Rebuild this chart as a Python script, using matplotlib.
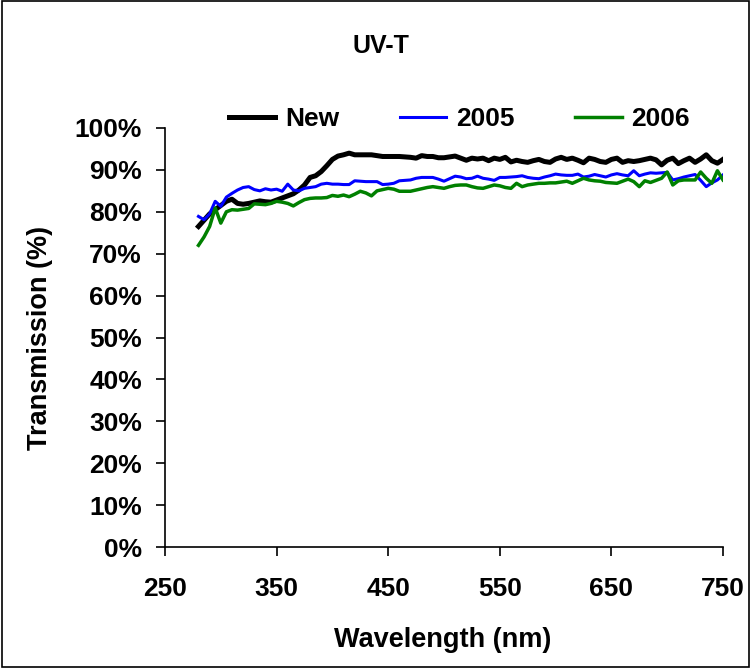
import matplotlib
matplotlib.use("Agg")
import matplotlib.pyplot as plt
from matplotlib.ticker import FuncFormatter

plt.rcParams['font.family'] = ['Liberation Sans', 'DejaVu Sans']
plt.rcParams['font.weight'] = 'bold'

# wavelength grid (nm)
wavelength = list(range(280, 755, 5))

trans_new = [
    76.5, 78.0, 79.5, 80.5, 81.5, 82.5, 83.0, 82.0, 81.8, 82.0,
    82.3, 82.6, 82.4, 82.3, 82.8, 83.3, 83.8, 84.3, 85.2, 86.4,
    88.2, 88.6, 89.6, 91.0, 92.5, 93.3, 93.6, 94.0, 93.6, 93.6,
    93.6, 93.6, 93.4, 93.2, 93.2, 93.2, 93.2, 93.1, 93.0, 92.8,
    93.4, 93.2, 93.2, 92.9, 92.9, 93.1, 93.3, 92.8, 92.3, 92.8,
    92.6, 92.8, 92.2, 92.8, 92.5, 93.0, 91.9, 92.3, 92.0, 91.8,
    92.2, 92.5, 92.0, 91.8, 92.6, 93.0, 92.5, 92.8, 92.3, 91.7,
    92.8, 92.5, 92.0, 91.8, 92.5, 92.8, 91.8, 92.2, 92.0, 92.2,
    92.5, 92.8, 92.4, 91.2, 92.3, 92.8, 91.5, 92.2, 92.8, 91.8,
    92.6, 93.6, 92.2, 91.6, 92.5,
]

trans_2005 = [
    78.9, 78.1, 79.5, 82.5, 81.3, 83.5, 84.4, 85.2, 85.8, 86.0,
    85.3, 85.0, 85.5, 85.2, 85.4, 84.9, 86.6, 85.2, 85.0, 85.6,
    85.8, 86.0, 86.6, 86.8, 86.6, 86.6, 86.5, 86.5, 87.4, 87.3,
    87.2, 87.2, 87.2, 86.5, 86.6, 86.8, 87.4, 87.5, 87.6, 88.0,
    88.2, 88.2, 88.2, 87.8, 87.3, 87.9, 88.5, 88.3, 87.9, 88.0,
    88.5, 88.0, 87.8, 87.5, 88.2, 88.2, 88.3, 88.4, 88.6, 88.2,
    88.0, 87.9, 88.3, 88.6, 89.0, 88.8, 88.7, 88.7, 89.0, 88.3,
    88.5, 88.9, 88.6, 88.3, 88.8, 89.1, 88.8, 88.6, 89.8, 88.6,
    89.0, 89.3, 89.2, 89.3, 89.4, 87.6, 87.9, 88.3, 88.6, 88.9,
    87.5, 86.0, 86.9, 87.6, 88.8,
]

trans_2006 = [
    72.0, 74.0, 76.5, 80.9, 77.3, 80.0, 80.5, 80.4, 80.6, 80.8,
    81.9, 81.8, 81.7, 82.0, 82.5, 82.3, 82.0, 81.4, 82.2, 82.9,
    83.2, 83.3, 83.3, 83.4, 83.9, 83.7, 84.0, 83.6, 84.2, 84.9,
    84.5, 83.8, 85.0, 85.3, 85.6, 85.4, 84.9, 84.9, 84.9, 85.2,
    85.5, 85.8, 86.0, 85.8, 85.6, 86.0, 86.3, 86.4, 86.4, 86.0,
    85.7, 85.6, 86.0, 86.4, 86.2, 85.8, 85.6, 86.8, 86.0, 86.4,
    86.6, 86.8, 86.8, 86.9, 86.9, 87.1, 87.3, 86.8, 87.4, 88.0,
    87.6, 87.4, 87.3, 87.0, 86.9, 86.8, 87.3, 87.8, 87.2, 86.0,
    87.4, 87.0, 87.5, 88.0, 89.5, 86.4, 87.4, 87.6, 87.6, 87.6,
    89.5, 88.0, 86.8, 89.8, 87.6,
]

fig = plt.figure(figsize=(7.51, 6.68), dpi=100)
ax = fig.add_axes([0.2197, 0.1811, 0.743, 0.6273])

ax.plot(wavelength, trans_new, color='black', lw=3.6, label='New')
ax.plot(wavelength, trans_2005, color='#0000ff', lw=2.2, label='2005')
ax.plot(wavelength, trans_2006, color='#008000', lw=2.5, label='2006')

ax.set_xlim(250, 750)
ax.set_ylim(0, 100)
ax.set_xticks(range(250, 751, 100))
ax.set_yticks(range(0, 101, 10))
ax.yaxis.set_major_formatter(FuncFormatter(lambda v, p: f"{int(v)}%"))
ax.tick_params(direction='out', length=6.5, width=1.2, labelsize=19)
ax.tick_params(axis='x', pad=15)
ax.tick_params(axis='y', pad=10)
for lab in ax.get_xticklabels() + ax.get_yticklabels():
    lab.set_fontweight('bold')

ax.spines['top'].set_visible(False)
ax.spines['right'].set_visible(False)
ax.spines['left'].set_linewidth(1.2)
ax.spines['bottom'].set_linewidth(1.2)

ax.set_xlabel('Wavelength (nm)', fontsize=19.5, fontweight='bold')
ax.set_ylabel('Transmission (%)', fontsize=19.5, fontweight='bold')
ax.xaxis.set_label_coords(0.497, -0.19)
ax.yaxis.set_label_coords(-0.2, 0.5)

fig.text(0.507, 0.931, 'UV-T', fontsize=18, fontweight='bold', ha='center', va='center')

leg = ax.legend(loc='center', bbox_to_anchor=(0.612, 0.822), bbox_transform=fig.transFigure,
                ncol=3, frameon=False, fontsize=19, handlelength=1.75,
                columnspacing=2.3, handletextpad=0.38)
for t in leg.get_texts():
    t.set_fontweight('bold')

# outer chart border
fig.patches.append(plt.Rectangle((0.002, 0.002), 0.996, 0.996, transform=fig.transFigure,
                                 fill=False, edgecolor='black', lw=1.2))

fig.savefig('out.png', dpi=100)
